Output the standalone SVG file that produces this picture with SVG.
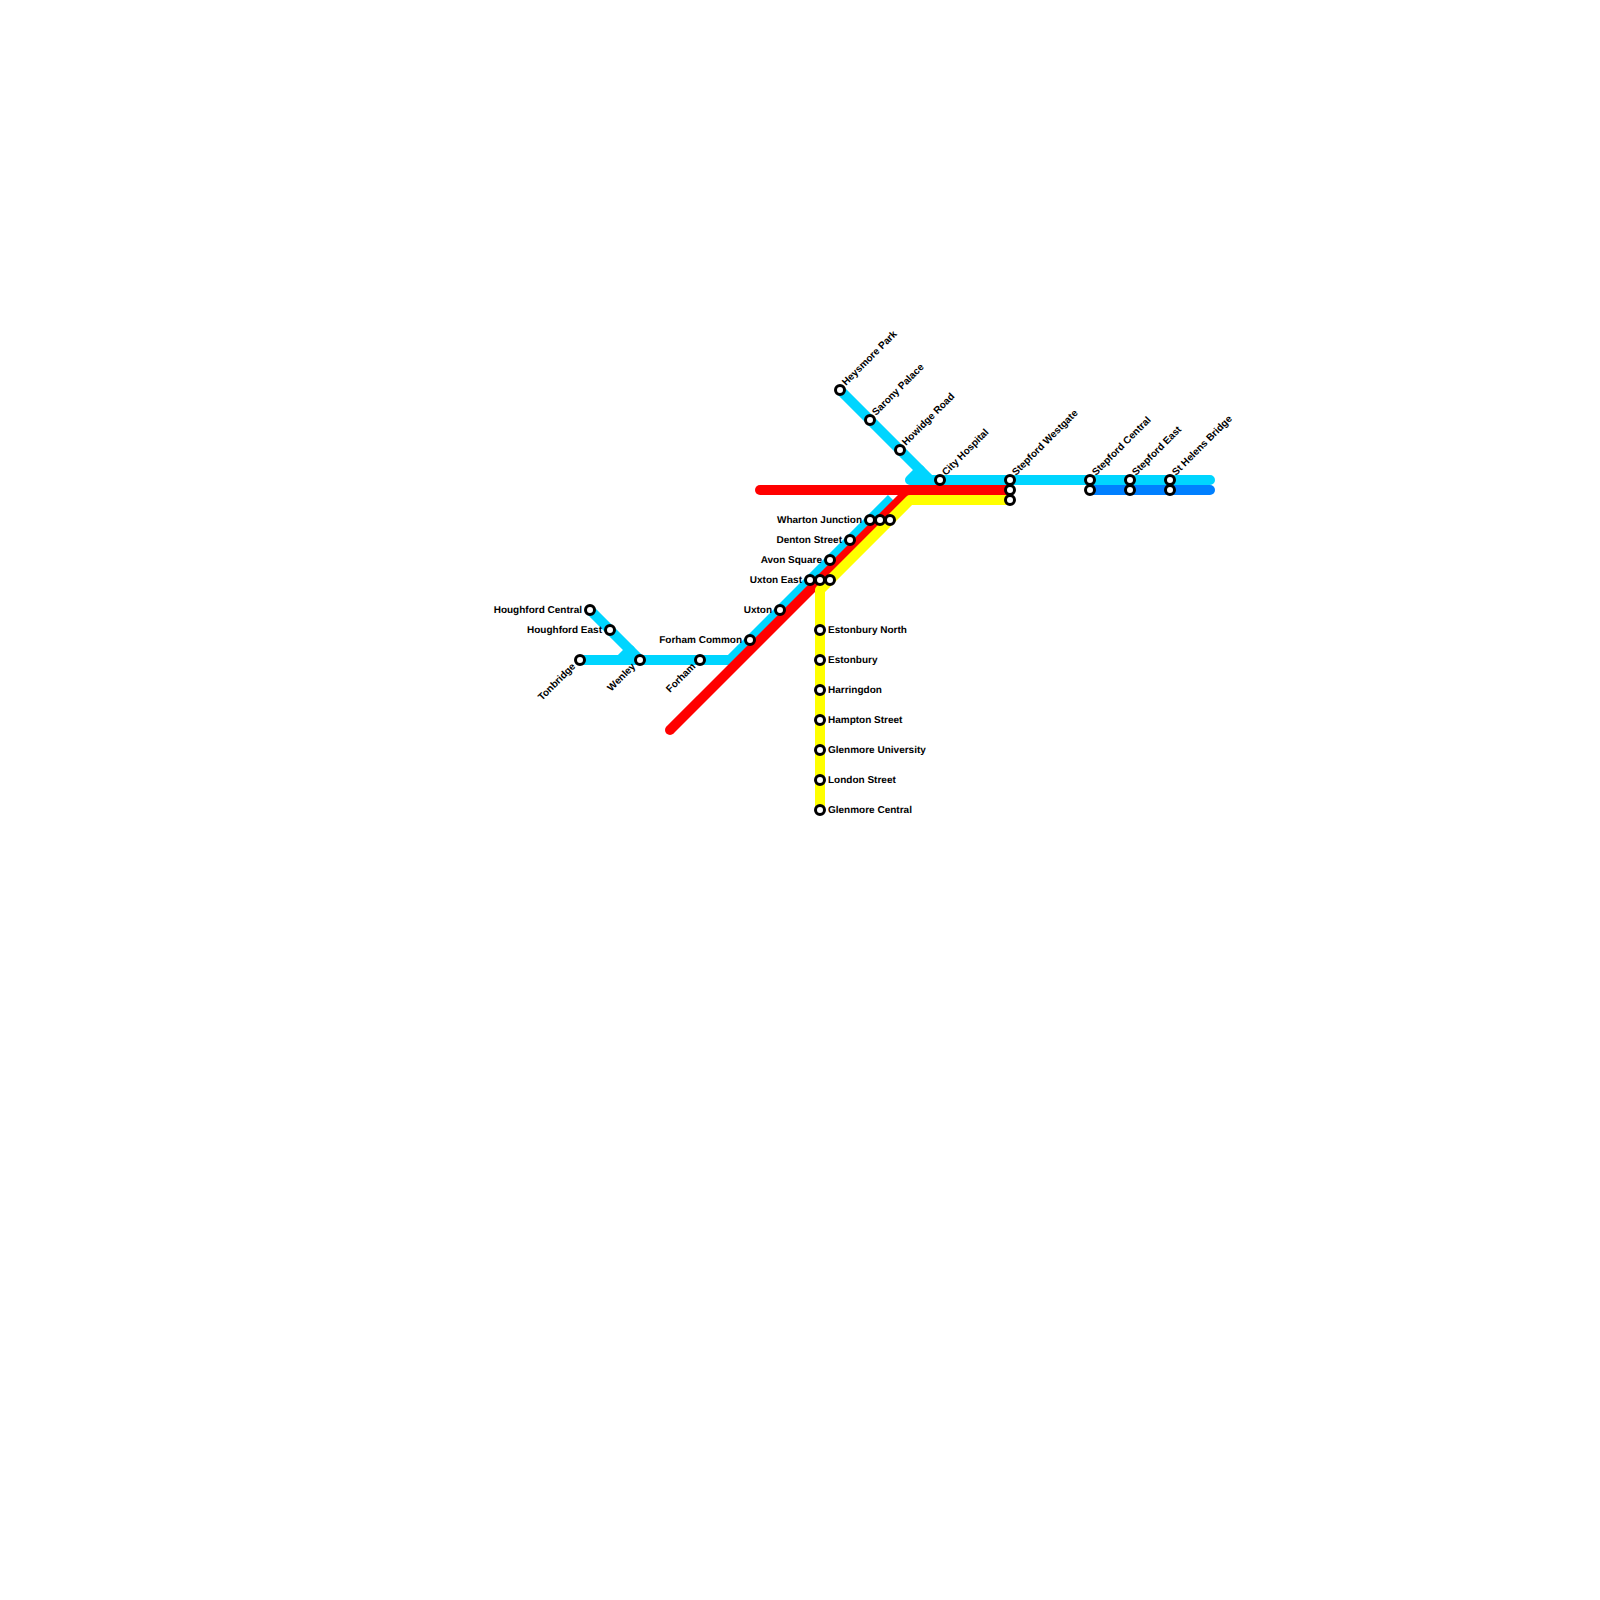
<svg xmlns="http://www.w3.org/2000/svg" width="1600" height="1600" viewBox="0 0 1600 1600">
<style>
.l{fill:none;stroke-width:10;stroke-linecap:round;stroke-linejoin:round}
.c{stroke:#00d5ff}.r{stroke:#ff0000}.y{stroke:#ffff00}.b{stroke:#0080ff}
.s circle{fill:#fff;stroke:#000;stroke-width:3}
text{font-family:"Liberation Sans",Arial,sans-serif;font-size:10px;font-weight:bold;fill:#000;text-rendering:geometricPrecision}
.e{text-anchor:end}
</style>
<rect width="1600" height="1600" fill="#fff"/>
<g id="connectors">
<path class="l c" d="M590 610L640 660"/>
<path class="l c" d="M630 650L620 660"/>
<path class="l c" d="M580 660H730"/>
<path class="l c" style="stroke-linecap:butt" d="M730 660L891.5 498.5"/>
<path class="l c" d="M840 390L930 480"/>
<path class="l c" d="M920 470L910 480H1210"/>
<path class="l b" d="M1090 490H1210"/>
<path class="l r" d="M670 730L910 490"/>
<path class="l r" d="M760 490H1010"/>
<path class="l y" d="M1010 500H910L820 590V810"/>
</g>
<g class="s">
<g id="st-tonbridge"><circle cx="580" cy="660" r="4.5"/><text class="e" transform="translate(576 667) rotate(-45)">Tonbridge</text></g>
<g id="st-wenley"><circle cx="640" cy="660" r="4.5"/><text class="e" transform="translate(636 667) rotate(-45)">Wenley</text></g>
<g id="st-forham"><circle cx="700" cy="660" r="4.5"/><text class="e" transform="translate(696 667) rotate(-45)">Forham</text></g>
<g id="st-houghford-central"><circle cx="590" cy="610" r="4.5"/><text class="e" x="582" y="612.5">Houghford Central</text></g>
<g id="st-houghford-east"><circle cx="610" cy="630" r="4.5"/><text class="e" x="602" y="632.5">Houghford East</text></g>
<g id="st-forham-common"><circle cx="750" cy="640" r="4.5"/><text class="e" x="742" y="642.5">Forham Common</text></g>
<g id="st-uxton"><circle cx="780" cy="610" r="4.5"/><text class="e" x="772" y="612.5">Uxton</text></g>
<g id="st-uxton-east"><circle cx="810" cy="580" r="4.5"/><circle cx="820" cy="580" r="4.5"/><circle cx="830" cy="580" r="4.5"/><text class="e" x="802" y="582.5">Uxton East</text></g>
<g id="st-avon-square"><circle cx="830" cy="560" r="4.5"/><text class="e" x="822" y="562.5">Avon Square</text></g>
<g id="st-denton-street"><circle cx="850" cy="540" r="4.5"/><text class="e" x="842" y="542.5">Denton Street</text></g>
<g id="st-wharton-junction"><circle cx="870" cy="520" r="4.5"/><circle cx="880" cy="520" r="4.5"/><circle cx="890" cy="520" r="4.5"/><text class="e" x="862" y="522.5">Wharton Junction</text></g>
<g id="st-heysmore-park"><circle cx="840" cy="390" r="4.5"/><text transform="translate(846 386) rotate(-45)">Heysmore Park</text></g>
<g id="st-sarony-palace"><circle cx="870" cy="420" r="4.5"/><text transform="translate(876 416) rotate(-45)">Sarony Palace</text></g>
<g id="st-howidge-road"><circle cx="900" cy="450" r="4.5"/><text transform="translate(906 446) rotate(-45)">Howidge Road</text></g>
<g id="st-city-hospital"><circle cx="940" cy="480" r="4.5"/><text transform="translate(946 476) rotate(-45)">City Hospital</text></g>
<g id="st-stepford-westgate"><circle cx="1010" cy="480" r="4.5"/><circle cx="1010" cy="490" r="4.5"/><circle cx="1010" cy="500" r="4.5"/><text transform="translate(1016 476) rotate(-45)">Stepford Westgate</text></g>
<g id="st-stepford-central"><circle cx="1090" cy="480" r="4.5"/><circle cx="1090" cy="490" r="4.5"/><text transform="translate(1096 476) rotate(-45)">Stepford Central</text></g>
<g id="st-stepford-east"><circle cx="1130" cy="480" r="4.5"/><circle cx="1130" cy="490" r="4.5"/><text transform="translate(1136 476) rotate(-45)">Stepford East</text></g>
<g id="st-helens-bridge"><circle cx="1170" cy="480" r="4.5"/><circle cx="1170" cy="490" r="4.5"/><text transform="translate(1176 476) rotate(-45)">St Helens Bridge</text></g>
<g id="st-estonbury-north"><circle cx="820" cy="630" r="4.5"/><text x="828" y="632.5">Estonbury North</text></g>
<g id="st-estonbury"><circle cx="820" cy="660" r="4.5"/><text x="828" y="662.5">Estonbury</text></g>
<g id="st-harringdon"><circle cx="820" cy="690" r="4.5"/><text x="828" y="692.5">Harringdon</text></g>
<g id="st-hampton-street"><circle cx="820" cy="720" r="4.5"/><text x="828" y="722.5">Hampton Street</text></g>
<g id="st-glenmore-university"><circle cx="820" cy="750" r="4.5"/><text x="828" y="752.5">Glenmore University</text></g>
<g id="st-london-street"><circle cx="820" cy="780" r="4.5"/><text x="828" y="782.5">London Street</text></g>
<g id="st-glenmore-central"><circle cx="820" cy="810" r="4.5"/><text x="828" y="812.5">Glenmore Central</text></g>
</g>
</svg>
